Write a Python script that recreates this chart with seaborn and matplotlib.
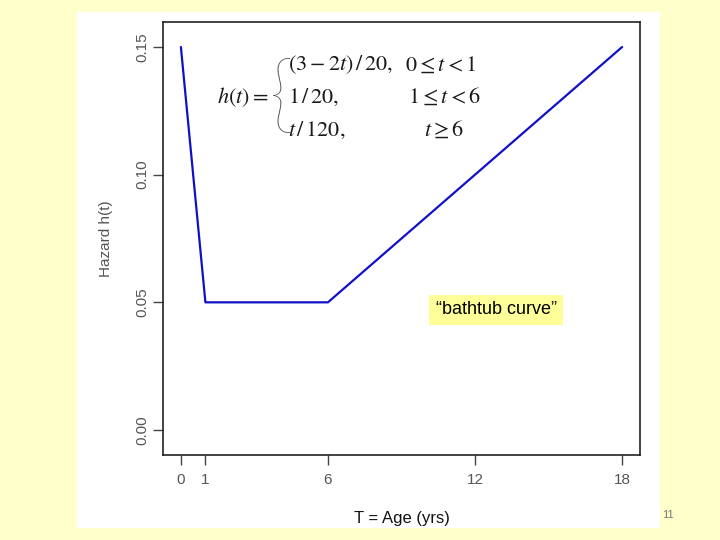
import numpy as np
import matplotlib
matplotlib.use("Agg")
import matplotlib.pyplot as plt
import seaborn as sns
from matplotlib.patches import Rectangle

# piecewise hazard h(t) corners
age = [0, 1, 6, 18]
hazard = [0.15, 0.05, 0.05, 0.15]
x_ticks = [0, 1, 6, 12, 18]
y_ticks = [0.00, 0.05, 0.10, 0.15]
y_tick_labels = ["0.00", "0.05", "0.10", "0.15"]

sns.set_style("white")
plt.rcParams["font.family"] = ["Liberation Sans", "DejaVu Sans"]
plt.rcParams["mathtext.fontset"] = "stix"

W, H = 720, 540
fig = plt.figure(figsize=(7.2, 5.4), dpi=100)
fig.patch.set_facecolor("#FFFFCC")


def px(x, y):
    return x / W, 1 - y / H


# white slide panel behind the plot
fig.patches.append(Rectangle(px(77, 528), 583 / W, 516 / H, transform=fig.transFigure,
                             facecolor="white", edgecolor="none", zorder=-5))

ax = fig.add_axes([163 / W, 1 - 455 / H, 477 / W, 433 / H])
ax.set_facecolor("white")
sns.lineplot(x=age, y=hazard, ax=ax, color="#1010C8", lw=1.6)

ax.set_xlim(-0.73, 18.73)
ax.set_ylim(-0.0098, 0.1598)
ax.set_xticks(x_ticks)
ax.set_xticklabels([str(v) for v in x_ticks])
ax.set_yticks(y_ticks)
ax.set_yticklabels(y_tick_labels, rotation=90, va="center")
ax.tick_params(axis="both", direction="out", length=7, width=1, color="#444",
               labelsize=11, labelcolor="#555", bottom=True, left=True)
ax.tick_params(axis="x", pad=6)
ax.tick_params(axis="y", pad=3)
for s in ax.spines.values():
    s.set_visible(True)
    s.set_color("#222")
    s.set_linewidth(1.2)

ax.set_xlabel("T = Age (yrs)", fontsize=12, color="#111", labelpad=17)
ax.set_ylabel("Hazard h(t)", fontsize=11, color="#555", labelpad=16)

# "bathtub curve" callout
fig.text(*px(496, 310), "\u201cbathtub curve\u201d", fontsize=13, color="black",
         ha="center", va="center",
         bbox=dict(boxstyle="square,pad=0.35", facecolor="#FFFF99", edgecolor="none"))

# formula
fc = "#1a1a1a"
fs = 16
fig.text(*px(269, 97), r"$h(t) =$", fontsize=fs, color=fc, ha="right", va="center")
fig.text(*px(281, 99), "{", fontsize=62, family="Lato", fontweight="light",
         color="#555", ha="center", va="center")
rows_y = [65, 97, 130]
left_col = [r"$(3-2t)\,/\,20,$", r"$1\,/\,20,$", r"$t\,/\,120,$"]
right_col = [r"$0 \leq t < 1$", r"$1 \leq t < 6$", r"$t \geq 6$"]
right_x = [405, 408, 424]
for yy, a, b, bx in zip(rows_y, left_col, right_col, right_x):
    fig.text(*px(288, yy), a, fontsize=fs, color=fc, ha="left", va="center")
    fig.text(*px(bx, yy), b, fontsize=fs, color=fc, ha="left", va="center")

fig.text(*px(668, 515), "11", fontsize=8, color="#777", ha="center", va="center")

fig.savefig("out.png", dpi=100, facecolor=fig.get_facecolor())
